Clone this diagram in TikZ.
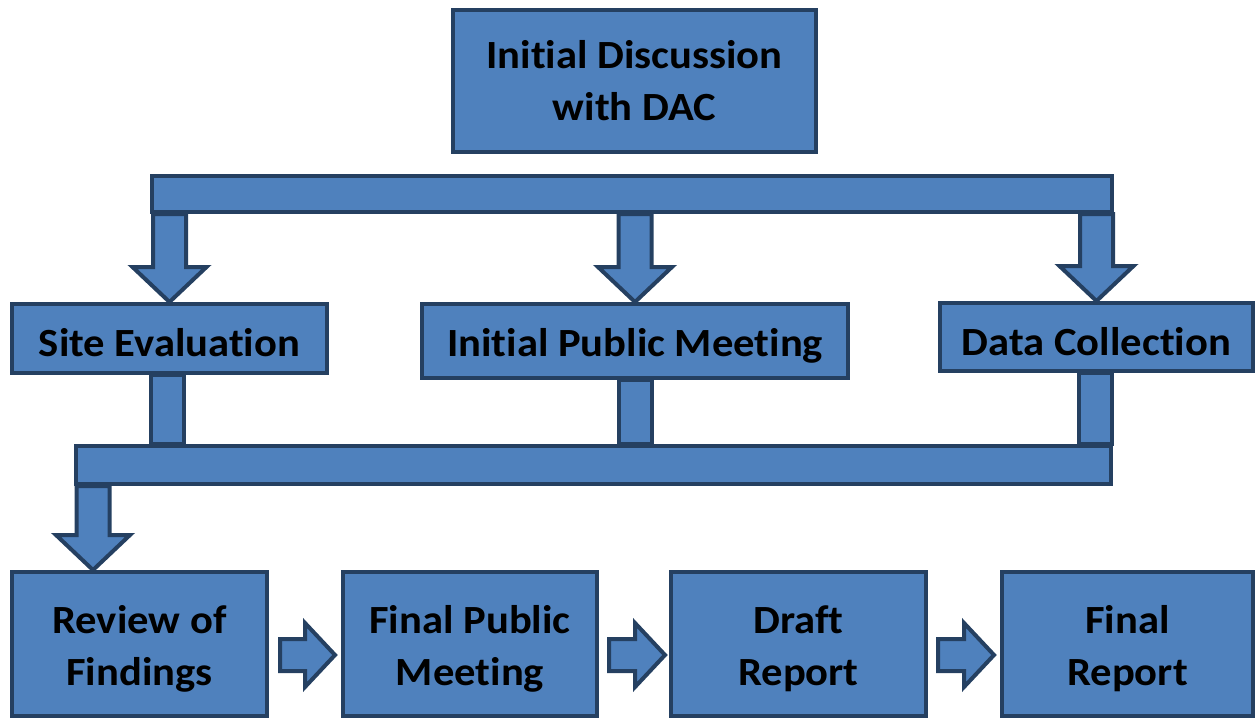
\documentclass[tikz,border=0pt]{standalone}
\usepackage{fontspec}
\setmainfont{Carlito}[FakeStretch=1.065, Ligatures=NoCommon]
\usetikzlibrary{calc}
\definecolor{boxblue}{RGB}{79,129,189}
\definecolor{edgeblue}{RGB}{37,64,97}

\begin{document}
\begin{tikzpicture}[x=0.5pt, y=-0.5pt,
line width=2pt,
block/.style={draw=edgeblue, fill=boxblue, rectangle, inner sep=0pt, align=center, font=\bfseries\fontsize{20}{26}\selectfont},
oneline/.style={text height=18pt, text depth=0pt},
twoline/.style={text height=39.5pt, text depth=0pt},
bar/.style={draw=edgeblue, fill=boxblue, rectangle, inner sep=0pt},
stem/.style={draw=edgeblue, fill=boxblue, to path={let \p1=(\tikztostart), \p2=(\tikztotarget) in
	(\x1-8.25pt,\y1) rectangle (\x1+8.25pt,\y2)}},
blockdn/.style={draw=edgeblue, fill=boxblue, to path={let \p1=(\tikztostart), \p2=(\tikztotarget) in
	(\x1-8.25pt,\y1) -- (\x1-8.25pt,\y2+17.5pt) -- (\x1-18.5pt,\y2+17.5pt) -- (\x1,\y2)
	-- (\x1+18.5pt,\y2+17.5pt) -- (\x1+8.25pt,\y2+17.5pt) -- (\x1+8.25pt,\y1) -- cycle}},
blockrt/.style={draw=edgeblue, fill=boxblue, to path={let \p1=(\tikztostart), \p2=(\tikztotarget) in
	(\x1,\y1-8pt) -- (\x2-15pt,\y1-8pt) -- (\x2-15pt,\y1-16pt) -- (\x2,\y1)
	-- (\x2-15pt,\y1+16pt) -- (\x2-15pt,\y1+8pt) -- (\x1,\y1+8pt) -- cycle}}]

\useasboundingbox (0,0) rectangle (1255,718);

\node[block, twoline, minimum width=181.5pt, minimum height=71pt]	(dac)	at (634.5,81)	{Initial Discussion\\with DAC};
\node[bar, minimum width=480pt, minimum height=18pt]		(bartop)	at (632,194)	{};

\node[block, oneline, minimum width=157.5pt, minimum height=34.5pt]	(site)	at (169.5,338.5)	{Site Evaluation};
\node[block, oneline, text height=15pt, minimum width=213pt, minimum height=37pt]	(ipm)	at (635,341)	{Initial Public Meeting};
\node[block, oneline, minimum width=156.5pt, minimum height=34pt]	(data)	at (1096.5,337)	{Data Collection};

\node[bar, minimum width=517.5pt, minimum height=19pt]		(barbot)	at (593.5,465)	{};

\node[block, twoline, text height=41pt, minimum width=127.5pt, minimum height=72pt]	(review)	at (139.5,644)	{Review of\\Findings};
\node[block, twoline, text height=41pt, minimum width=127pt, minimum height=72pt]	(finpub)	at (470,644)	{Final Public\\Meeting};
\node[block, twoline, text height=41pt, minimum width=127.5pt, minimum height=72pt]	(draft)	at (798.5,644)	{Draft\\Report};
\node[block, twoline, text height=41pt, minimum width=125.5pt, minimum height=72pt]	(finrep)	at (1127.5,644)	{Final\\Report};

% bar to the three tasks
\path
 (bartop.south -| site.north) edge[blockdn] (site.north)
 (bartop.south -| ipm.north) edge[blockdn] (ipm.north)
 (bartop.south -| data.north) edge[blockdn] (data.north);

% tasks down to the lower bar
\path
 ([xshift=-1.25pt]site.south) edge[stem] (barbot.north)
 (ipm.south) edge[stem] (barbot.north)
 ([xshift=-0.75pt]data.south) edge[stem] (barbot.north);

\path
 ([xshift=9.5pt]barbot.south west) edge[blockdn] (review.north)
 ([shift={(5.5pt,-5.5pt)}]review.east) edge[blockrt] ([xshift=-3pt]finpub.west)
 ([shift={(5pt,-5.5pt)}]finpub.east) edge[blockrt] ([xshift=-2pt]draft.west)
 ([shift={(5pt,-5.5pt)}]draft.east) edge[blockrt] ([xshift=-3pt]finrep.west);

\end{tikzpicture}
\end{document}
